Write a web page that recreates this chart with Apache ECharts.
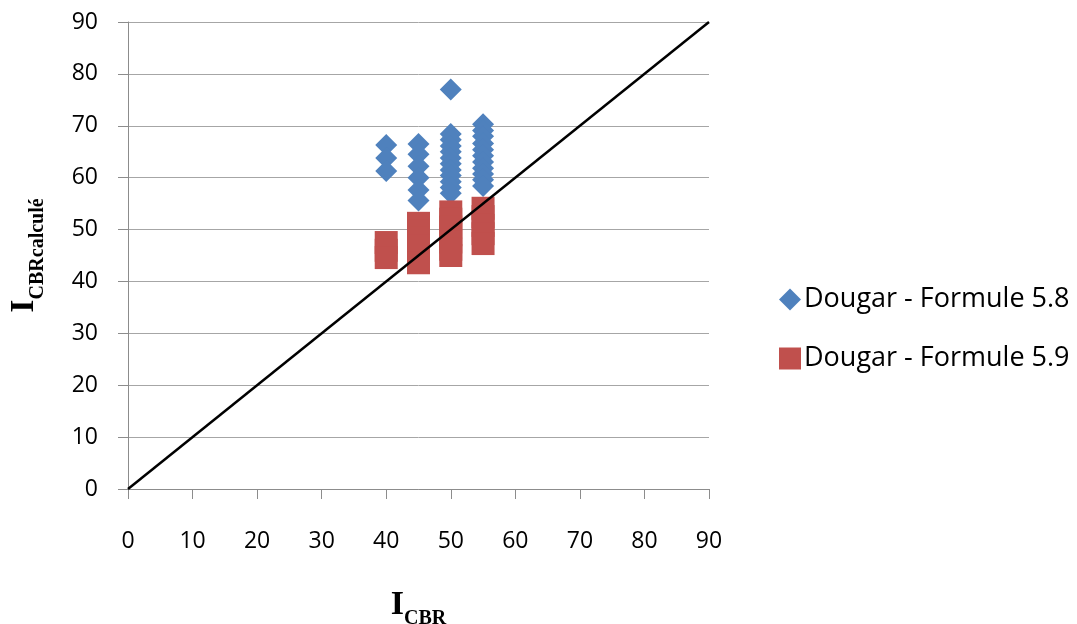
<!DOCTYPE html>
<html>
<head>
<meta charset="utf-8">
<script src="https://cdn.jsdelivr.net/npm/echarts@6/dist/echarts.min.js"></script>
<style>html,body{margin:0;padding:0;background:#fff;}#c{width:1077px;height:624px;}</style>
</head>
<body>
<div id="c"></div>
<script>
// Axis ticks
const xTicks = [0, 10, 20, 30, 40, 50, 60, 70, 80, 90];
const yTicks = [0, 10, 20, 30, 40, 50, 60, 70, 80, 90];

// Dougar - Formule 5.8 (diamonds): [I_CBR, I_CBR calculé]
const formule58 = [
  [40, 66.3], [40, 63.8], [40, 61.3],
  [45, 66.5], [45, 64.5], [45, 62.2], [45, 60.0], [45, 57.6], [45, 55.6],
  [50, 77.0], [50, 68.4], [50, 67.3], [50, 66.1], [50, 65.0], [50, 63.8], [50, 62.7],
  [50, 61.5], [50, 60.4], [50, 59.2], [50, 58.1], [50, 57.0],
  [55, 70.3], [55, 69.1], [55, 68.0], [55, 66.6], [55, 65.4], [55, 64.2], [55, 63.0],
  [55, 61.8], [55, 60.7], [55, 59.6], [55, 58.4]
];

// Dougar - Formule 5.9 (squares)
const formule59 = [
  [40, 47.5], [40, 46.0], [40, 44.6],
  [45, 51.2], [45, 49.8], [45, 48.3], [45, 46.9], [45, 45.2], [45, 43.6],
  [50, 53.4], [50, 52.0], [50, 50.5], [50, 49.0], [50, 47.6], [50, 46.2], [50, 45.0],
  [55, 54.1], [55, 52.5], [55, 50.8], [55, 49.2], [55, 47.3]
];

// Diagonal y = x
const diagonal = [[0, 0], [90, 90]];

const tickFont = {fontFamily: 'Open Sans', fontSize: 23, color: '#000'};
const titleRich = {
  i: {fontFamily: 'Liberation Serif', fontWeight: 'bold', fontSize: 34, color: '#000', verticalAlign: 'bottom', lineHeight: 40, padding: [0, 0, 7, 0]},
  s: {fontFamily: 'Liberation Serif', fontWeight: 'bold', fontSize: 20, color: '#000', verticalAlign: 'bottom', lineHeight: 40}
};

const chart = echarts.init(document.getElementById('c'));
chart.setOption({
  animation: false,
  backgroundColor: '#fff',
  grid: {left: 128, right: 368, top: 22, bottom: 135, containLabel: false, outerBoundsMode: 'none'},
  legend: {
    orient: 'vertical',
    left: 774, top: 281,
    itemGap: 32,
    itemWidth: 22, itemHeight: 22,
    textStyle: {fontFamily: 'Open Sans', fontSize: 27, color: '#000', padding: [0,0,0,-2]},
    data: [
      {name: 'Dougar - Formule 5.8', icon: 'diamond'},
      {name: 'Dougar - Formule 5.9', icon: 'rect'}
    ]
  },
  xAxis: {
    type: 'value', min: xTicks[0], max: xTicks[xTicks.length - 1], interval: 10,
    axisLine: {show: true, onZero: false, lineStyle: {color: '#8c8c8c', width: 1}},
    axisTick: {show: true, length: 10, lineStyle: {color: '#8c8c8c'}},
    splitLine: {show: false},
    axisLabel: Object.assign({margin: 41}, tickFont),
    name: '{i|I}{s|CBR}',
    nameLocation: 'middle',
    nameGap: 100,
    nameTextStyle: {rich: titleRich}
  },
  yAxis: {
    type: 'value', min: yTicks[0], max: yTicks[yTicks.length - 1], interval: 10,
    axisLine: {show: true, onZero: false, lineStyle: {color: '#8c8c8c', width: 1}},
    axisTick: {show: true, length: 10, lineStyle: {color: '#8c8c8c'}},
    splitLine: {show: true, lineStyle: {color: '#a6a6a6', width: 1}},
    axisLabel: Object.assign({margin: 30}, tickFont),
    name: '{i|I}{s|CBRcalculé}',
    nameLocation: 'middle',
    nameRotate: 90,
    nameGap: 80,
    nameTextStyle: {rich: titleRich}
  },
  series: [
    {
      name: 'Dougar - Formule 5.8', type: 'scatter', symbol: 'diamond', symbolSize: 22,
      itemStyle: {color: '#4F81BD', opacity: 1}, data: formule58, z: 2
    },
    {
      name: 'Dougar - Formule 5.9', type: 'scatter', symbol: 'rect', symbolSize: 23,
      itemStyle: {color: '#C0504D', opacity: 1}, data: formule59, z: 3
    },
    {
      name: 'diag', type: 'line', data: diagonal, showSymbol: false, symbol: 'none',
      lineStyle: {color: '#000', width: 2.5}, z: 4, silent: true
    }
  ]
});
</script>
</body>
</html>
